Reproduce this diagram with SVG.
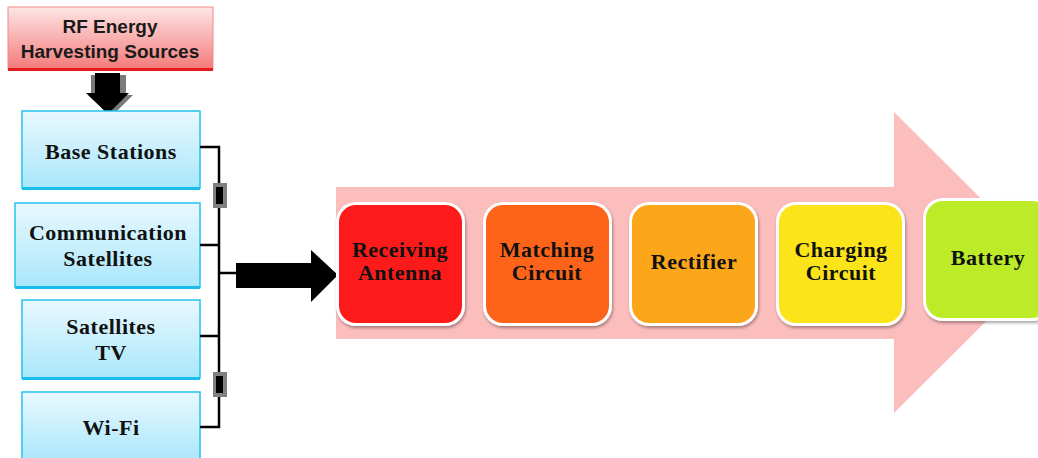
<svg xmlns="http://www.w3.org/2000/svg" width="1038" height="458" viewBox="0 0 1038 458">
<defs>
<linearGradient id="gPink" x1="0" y1="0" x2="0" y2="1"><stop offset="0" stop-color="#fde6e6"/><stop offset="1" stop-color="#f47a7a"/></linearGradient>
<linearGradient id="gBlue" x1="0" y1="0" x2="0" y2="1"><stop offset="0" stop-color="#e9f8fe"/><stop offset="1" stop-color="#a9e7fb"/></linearGradient>
<filter id="sh" x="-10%" y="-10%" width="130%" height="130%"><feDropShadow dx="1" dy="2" stdDeviation="1.5" flood-color="#000" flood-opacity="0.35"/></filter>
</defs>
<style>
.src{fill:url(#gBlue);stroke:#22c3ef;stroke-width:1.5}
.srcb{stroke:#18bdee;stroke-width:3}
.st{font-family:"Liberation Serif","Times New Roman",serif;font-weight:bold;font-size:22px;fill:#111;text-anchor:middle;letter-spacing:0.5px}
.blk{fill:#fff;filter:url(#sh)}
.wire{stroke:#000;stroke-width:2.5;fill:none}
</style>
<rect width="1038" height="458" fill="#fff"/>

<g id="rf-sources">
<rect x="8" y="7" width="205" height="62" fill="url(#gPink)" stroke="#f08a8a" stroke-width="1"/>
<line x1="8" y1="69.5" x2="213" y2="69.5" stroke="#e51c1c" stroke-width="3"/>
<text x="110" y="33" font-family="Liberation Sans, Arial, sans-serif" font-weight="bold" font-size="19" fill="#1a1a1a" text-anchor="middle">RF Energy</text>
<text x="110" y="58" font-family="Liberation Sans, Arial, sans-serif" font-weight="bold" font-size="19" fill="#1a1a1a" text-anchor="middle">Harvesting Sources</text>
</g>

<g id="down-arrow">
<polygon points="91,75 126,75 126,95 133,95 111,117 88,95 91,95" fill="#7a7a7a"/>
<polygon points="95,73 120,73 120,93 129,93 108,114 86,93 95,93" fill="#000"/>
</g>

<g id="base-stations">
<rect class="src" x="22" y="111" width="178" height="77"/>
<line class="srcb" x1="22" y1="188.5" x2="200" y2="188.5"/>
<text class="st" x="111" y="159">Base Stations</text>
</g>
<g id="comm-satellites">
<rect class="src" x="15" y="203" width="185" height="84"/>
<line class="srcb" x1="15" y1="287.5" x2="200" y2="287.5"/>
<text class="st" x="108" y="240">Communication</text>
<text class="st" x="108" y="266">Satellites</text>
</g>
<g id="satellites-tv">
<rect class="src" x="22" y="300" width="178" height="78"/>
<line class="srcb" x1="22" y1="378.5" x2="200" y2="378.5"/>
<text class="st" x="111" y="334">Satellites</text>
<text class="st" x="111" y="360">TV</text>
</g>
<g id="wi-fi">
<rect class="src" x="22" y="392" width="178" height="70"/>
<text class="st" x="111" y="435">Wi-Fi</text>
</g>

<g id="connectors">
<polyline class="wire" points="200,147 219,147 219,427 200,427"/>
<line class="wire" x1="200" y1="245" x2="219" y2="245"/>
<line class="wire" x1="200" y1="336" x2="219" y2="336"/>
<line class="wire" x1="219" y1="273" x2="238" y2="273"/>
<rect x="213" y="183" width="14" height="25" fill="#808080"/>
<rect x="216" y="187" width="7" height="17" fill="#000"/>
<rect x="213" y="372" width="14" height="25" fill="#808080"/>
<rect x="216" y="376" width="7" height="17" fill="#000"/>
<polygon points="236,263 311,263 311,250 338,275 311,302 311,288 236,288" fill="#000"/>
</g>

<g id="flow-arrow">
<polygon points="336,187 894,187 894,112 1045,262.5 894,413 894,339 336,339" fill="#fcbdbd"/>
</g>

<g id="receiving-antenna">
<rect class="blk" x="336" y="202" width="129" height="124" rx="20"/>
<rect x="339" y="205" width="123" height="118" rx="17" fill="#fd1a1a"/>
<text class="st" x="400" y="257">Receiving</text>
<text class="st" x="400" y="280">Antenna</text>
</g>
<g id="matching-circuit">
<rect class="blk" x="483" y="202" width="129" height="124" rx="20"/>
<rect x="486" y="205" width="123" height="118" rx="17" fill="#fe6419"/>
<text class="st" x="547" y="257">Matching</text>
<text class="st" x="547" y="280">Circuit</text>
</g>
<g id="rectifier">
<rect class="blk" x="629" y="202" width="129" height="124" rx="20"/>
<rect x="632" y="205" width="123" height="118" rx="17" fill="#fca619"/>
<text class="st" x="694" y="269">Rectifier</text>
</g>
<g id="charging-circuit">
<rect class="blk" x="776" y="202" width="129" height="124" rx="20"/>
<rect x="779" y="205" width="123" height="118" rx="17" fill="#fbe419"/>
<text class="st" x="841" y="257">Charging</text>
<text class="st" x="841" y="280">Circuit</text>
</g>
<g id="battery">
<rect class="blk" x="923" y="198" width="129" height="123" rx="20"/>
<rect x="926" y="201" width="123" height="117" rx="17" fill="#bbec27"/>
<text class="st" x="988" y="265">Battery</text>
</g>
</svg>
